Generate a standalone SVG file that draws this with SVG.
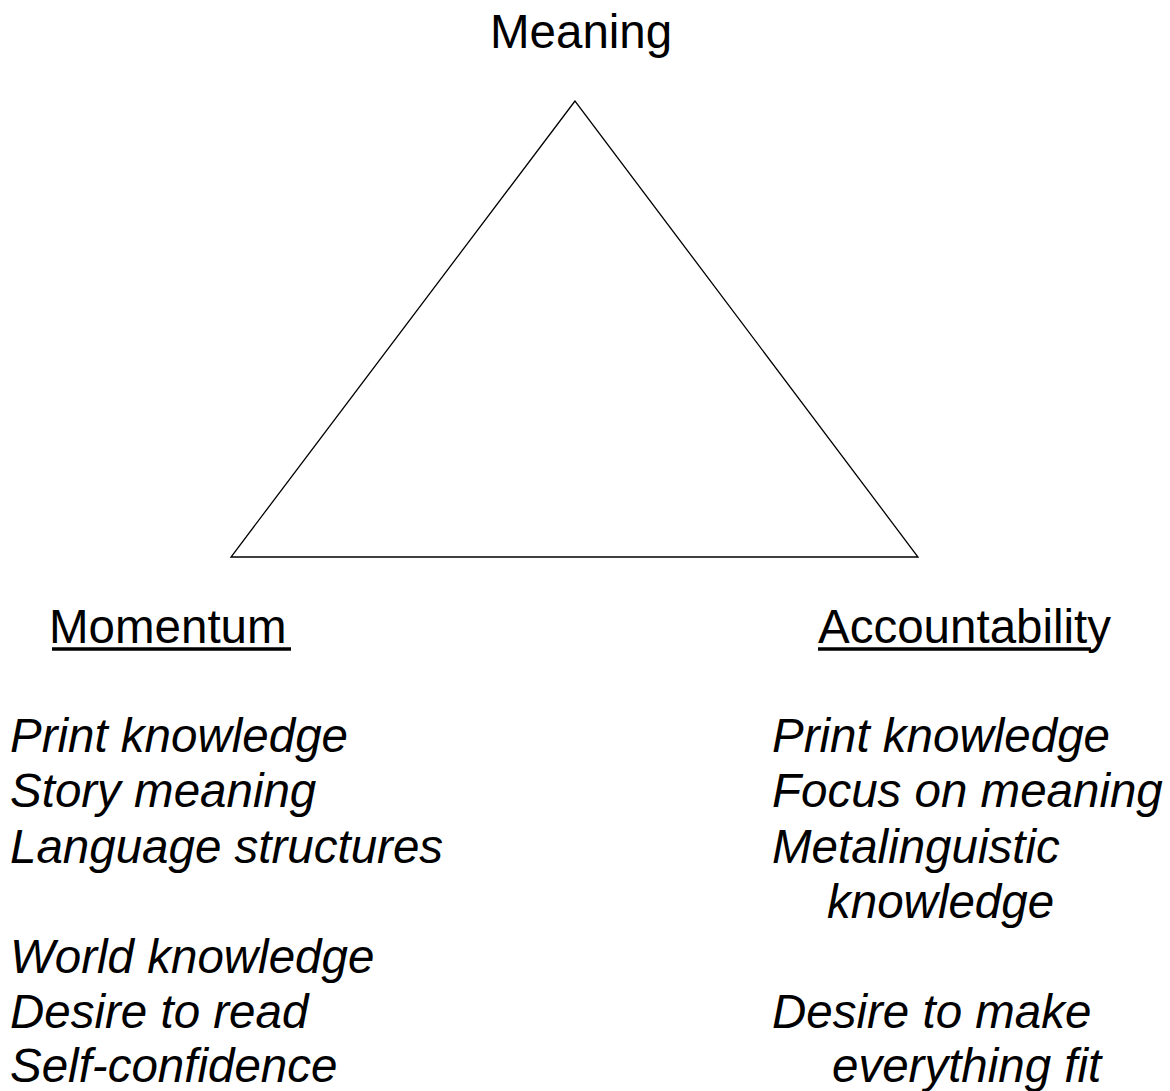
<svg xmlns="http://www.w3.org/2000/svg" width="1170" height="1091" viewBox="0 0 1170 1091">
  <style>
    .t { font-family: "Liberation Sans", Arial, sans-serif; font-size: 47.5px; fill: #000; }
    .i { font-style: italic; }
    .ul { stroke: #000; stroke-width: 3.5; }
  </style>
  <rect width="1170" height="1091" fill="#fff"/>

  <!-- triangle -->
  <g id="triangle">
    <polygon points="575,101 231,557 918,557" fill="none" stroke="#000" stroke-width="1.3" stroke-linejoin="miter"/>
  </g>

  <!-- apex label -->
  <g id="meaning">
    <text class="t" x="490" y="48">Meaning</text>
  </g>

  <!-- left corner -->
  <g id="momentum">
    <text class="t" x="49" y="643">Momentum</text>
    <line class="ul" x1="52" y1="649" x2="291" y2="649"/>
    <text class="t i" x="10" y="752">Print knowledge</text>
    <text class="t i" x="10" y="807">Story meaning</text>
    <text class="t i" x="10" y="863">Language structures</text>
    <text class="t i" x="10" y="973">World knowledge</text>
    <text class="t i" x="10" y="1028">Desire to read</text>
    <text class="t i" x="10" y="1082">Self-confidence</text>
  </g>

  <!-- right corner -->
  <g id="accountability">
    <text class="t" x="818" y="643">Accountability</text>
    <line class="ul" x1="818" y1="649" x2="1091" y2="649"/>
    <text class="t i" x="772" y="752">Print knowledge</text>
    <text class="t i" x="772" y="807">Focus on meaning</text>
    <text class="t i" x="772" y="863">Metalinguistic</text>
    <text class="t i" x="827" y="918">knowledge</text>
    <text class="t i" x="772" y="1028">Desire to make</text>
    <text class="t i" x="832" y="1082">everything fit</text>
  </g>
</svg>
